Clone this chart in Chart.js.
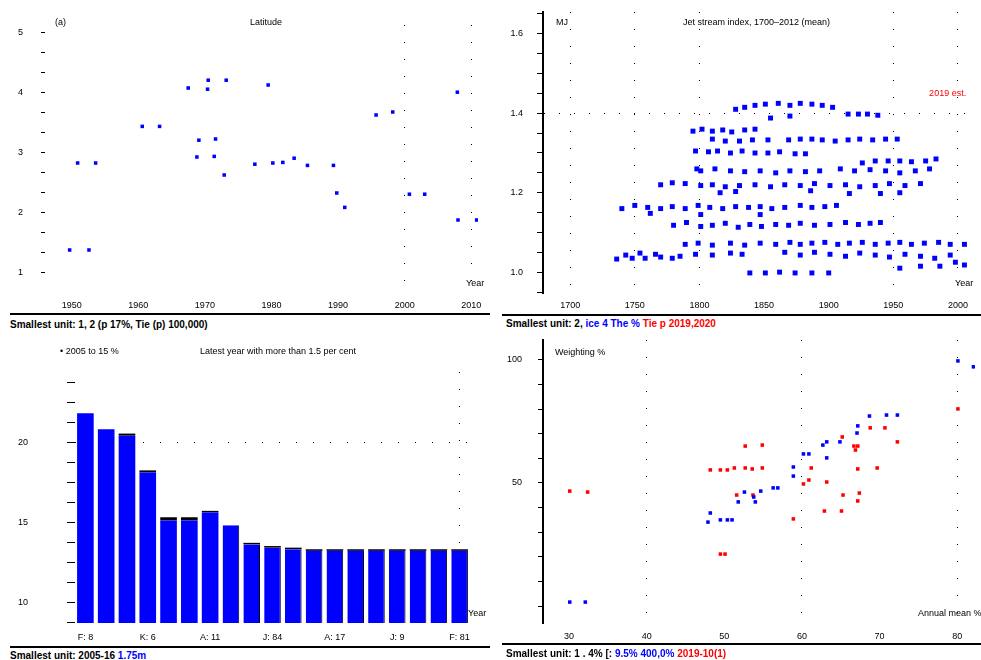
<!DOCTYPE html>
<html>
<head>
<meta charset="utf-8">
<script src="https://cdn.jsdelivr.net/npm/chart.js@4"></script>
<style>
body { margin: 0; background: #fff; width: 981px; height: 660px; position: relative; overflow: hidden; font-family: "Liberation Sans", Arial, sans-serif; }
canvas { position: absolute; }
.txt { position: absolute; font-size: 9px; color: #000; white-space: nowrap; line-height: 10px; }
.rule { position: absolute; height: 2px; background: #000; }
.foot { position: absolute; font-size: 10px; font-weight: bold; white-space: nowrap; line-height: 11px; color: #000; }
.b { color: #0000ff; }
.r { color: #ff0000; }
</style>
</head>
<body>
<canvas id="c1" width="490" height="314" style="left:0;top:0"></canvas>
<canvas id="c2" width="491" height="314" style="left:490px;top:0"></canvas>
<canvas id="c3" width="490" height="312" style="left:0;top:334px"></canvas>
<canvas id="c4" width="491" height="310" style="left:490px;top:334px"></canvas>

<div class="txt" style="left:55px;top:17px">(a)</div>
<div class="txt" style="left:250px;top:17px">Latitude</div>
<div class="txt" style="left:466px;top:278px">Year</div>
<div class="txt" style="left:556px;top:17px">MJ</div>
<div class="txt" style="left:683px;top:17px">Jet stream index, 1700–2012 (mean)</div>
<div class="txt" style="left:955px;top:278px">Year</div>
<div class="txt" style="left:60px;top:346px">• 2005 to 15 %</div>
<div class="txt" style="left:200px;top:346px">Latest year with more than 1.5 per cent</div>
<div class="txt" style="left:468px;top:608px">Year</div>
<div class="txt" style="left:555px;top:347px">Weighting %</div>
<div class="txt" style="left:918px;top:608px">Annual mean %</div>

<div class="rule" style="left:10px;top:313px;width:480px"></div>
<div class="rule" style="left:502px;top:314px;width:479px"></div>
<div class="rule" style="left:10px;top:646px;width:480px"></div>
<div class="rule" style="left:502px;top:643px;width:479px"></div>

<div class="foot" style="left:10px;top:319px">Smallest unit: 1, 2 (p 17%, Tie (p) 100,000)</div>
<div class="foot" style="left:506px;top:318px">Smallest unit: 2, <span class="b">ice 4 The %</span> <span class="r">Tie p 2019,2020</span></div>
<div class="foot" style="left:10px;top:650px">Smallest unit: 2005-16 <span class="b">1.75m</span></div>
<div class="foot" style="left:506px;top:648px">Smallest unit: 1 . 4% [: <span class="b">9.5% 400,0%</span> <span class="r">2019-10(1)</span></div>

<script>
// ---- top left: scatter
const tlYears = [1967.5, 1970.5, 1970.4, 1973.2, 1979.5, 2007.9, 1995.7, 1998.2, 1960.6, 1963.2,
  1969.1, 1971.6, 1968.8, 1971.4, 1950.9, 1953.6, 1977.5, 1980.2, 1981.7, 1983.4, 1985.4,
  1989.3, 1972.9, 1989.8, 1991.0, 2000.7, 2003.0, 2008.0, 2010.8, 1949.7, 1952.6];
const tlValues = [4.07, 4.2, 4.05, 4.2, 4.12, 4.0, 3.62, 3.67, 3.43, 3.43,
  3.2, 3.22, 2.92, 2.93, 2.82, 2.82, 2.8, 2.82, 2.83, 2.9, 2.78,
  2.78, 2.62, 2.32, 2.08, 2.3, 2.3, 1.87, 1.87, 1.37, 1.37];
const tlXTicks = [1950, 1960, 1970, 1980, 1990, 2000, 2010];
const tlYTicks = [1, 1.333, 1.667, 2, 2.333, 2.667, 3, 3.333, 3.667, 4, 4.333, 4.667, 5];

// ---- top right: dense scatter
const trYears = [
  1828, 1835, 1843, 1851, 1861, 1870, 1878, 1887, 1895, 1903, 1915, 1923, 1930, 1938, 1855, 1870,
  1795, 1802, 1810, 1818, 1825, 1835, 1843,
  1810, 1820, 1831, 1841, 1853, 1869, 1878, 1887, 1895, 1905, 1915, 1924, 1934, 1944, 1953,
  1797, 1807, 1814, 1824, 1833, 1843, 1853, 1862, 1874, 1882,
  1926, 1936, 1946, 1955, 1964, 1975, 1983,
  1798, 1801, 1812, 1824, 1835, 1847, 1859, 1870, 1882, 1893, 1909, 1920, 1932, 1944, 1955, 1967, 1978,
  1770, 1779, 1789, 1801, 1810, 1820, 1831, 1843, 1855, 1866, 1878, 1889, 1901, 1913, 1924, 1936, 1947, 1959, 1971,
  1816, 1828, 1886, 1916, 1940, 1955,
  1740, 1750, 1760, 1770, 1779, 1789, 1799, 1808, 1818, 1828, 1838, 1847, 1856, 1866, 1878, 1887, 1897, 1906,
  1762, 1801, 1847,
  1780, 1790, 1801, 1810, 1820, 1830, 1839, 1848, 1859, 1869, 1878, 1889, 1901, 1913, 1923, 1932, 1940,
  1789, 1799, 1810, 1824, 1835, 1847, 1859, 1870, 1878, 1887, 1897, 1907, 1916, 1926, 1936, 1946, 1955, 1964, 1974, 1985, 1994, 2005,
  1866, 1878, 1889, 1901, 1913, 1924, 1936, 1947, 1959, 1971, 1982, 1994, 1743, 1754, 1766, 1785, 1797, 1810, 1824, 1833,
  1736, 1748, 1758, 1770, 1779,
  1839, 1851, 1862, 1874, 1887, 1900,
  1955, 1971, 1986, 1998, 2005];
const trValues = [
  1.41, 1.415, 1.42, 1.423, 1.425, 1.42, 1.425, 1.423, 1.42, 1.415, 1.398, 1.398, 1.398, 1.395, 1.388, 1.393,
  1.355, 1.36, 1.355, 1.358, 1.353, 1.358, 1.36,
  1.335, 1.33, 1.33, 1.333, 1.333, 1.333, 1.335, 1.335, 1.333, 1.33, 1.333, 1.335, 1.333, 1.335, 1.335,
  1.305, 1.303, 1.305, 1.3, 1.305, 1.3, 1.3, 1.303, 1.298, 1.298,
  1.275, 1.28, 1.28, 1.28, 1.278, 1.28, 1.285,
  1.26, 1.255, 1.26, 1.255, 1.253, 1.255, 1.25, 1.255, 1.253, 1.255, 1.26, 1.255, 1.258, 1.255, 1.25, 1.255, 1.26,
  1.22, 1.225, 1.223, 1.218, 1.22, 1.215, 1.218, 1.22, 1.215, 1.22, 1.218, 1.223, 1.218, 1.22, 1.215, 1.218, 1.223, 1.218, 1.223,
  1.2, 1.203, 1.205, 1.198, 1.198, 1.2,
  1.16, 1.168, 1.163, 1.16, 1.165, 1.16, 1.168, 1.163, 1.16, 1.165, 1.163, 1.165, 1.16, 1.163, 1.168, 1.163, 1.165, 1.168,
  1.148, 1.145, 1.145,
  1.118, 1.125, 1.115, 1.118, 1.123, 1.113, 1.12, 1.115, 1.12, 1.118, 1.123, 1.118, 1.12, 1.125, 1.12, 1.123, 1.125,
  1.07, 1.073, 1.068, 1.073, 1.068, 1.073, 1.07, 1.075, 1.07, 1.073, 1.075, 1.07, 1.073, 1.075, 1.07, 1.073, 1.075, 1.07, 1.073, 1.075, 1.07, 1.07,
  1.05, 1.043, 1.05, 1.045, 1.04, 1.048, 1.043, 1.038, 1.045, 1.04, 1.035, 1.043, 1.043, 1.048, 1.045, 1.04, 1.045, 1.043, 1.048, 1.045,
  1.033, 1.035, 1.035, 1.038, 1.035,
  0.998, 0.998, 1.0, 0.998, 0.998, 0.998,
  1.01, 1.015, 1.015, 1.025, 1.018];
const trNoteYears = [1992];
const trNoteValues = [1.45];
const trNoteText = ['2019 est.'];
const trXTicks = [1700, 1750, 1800, 1850, 1900, 1950, 2000];
const trYTicks = [0.95, 1.0, 1.05, 1.1, 1.15, 1.2, 1.25, 1.3, 1.35, 1.4, 1.45, 1.5, 1.55, 1.6, 1.65];
const trYLabelled = [1.0, 1.2, 1.4, 1.6];

// ---- bottom left: bars
const blCats = ['F: 8', 'G: 3', 'H: 5', 'K: 6', 'L: 2', 'M: 9', 'A: 11', 'B: 4', 'C: 7', 'J: 84',
  'N: 3', 'P: 5', 'A: 17', 'D: 2', 'E: 6', 'J: 9', 'R: 4', 'S: 1', 'F: 81'];
const blValues = [21.8, 20.8, 20.4, 18.1, 15.1, 15.1, 15.6, 14.8, 13.6, 13.4,
  13.3, 13.2, 13.2, 13.2, 13.2, 13.2, 13.2, 13.2, 13.2];
const blCaps = [0, 0, 0.13, 0.13, 0.2, 0.2, 0.1, 0, 0.1, 0.1,
  0.1, 0.1, 0.1, 0.1, 0.1, 0.1, 0.1, 0.1, 0.1];
const blYTicks = [8.75, 10, 11.25, 12.5, 13.75, 15, 16.25, 17.5, 18.75, 20, 21.25, 22.5, 23.75];
const blYLabelled = [10, 15, 20];

// ---- bottom right: two scatter series
const brBlueX = [80.1, 82.1, 68.7, 70.9, 72.3, 67.2, 67.1, 64.9, 63.2, 62.7, 60.2, 60.9, 63.2, 58.9, 58.9,
  56.3, 56.9, 52.6, 54.7, 53.8, 51.8, 54.0, 48.2, 49.5, 50.4, 51.0, 47.9, 30.1, 32.1];
const brBlueY = [99.6, 97.2, 77.2, 77.6, 77.6, 73.2, 70.3, 66.7, 66.7, 65.4, 61.8, 61.8, 60.2, 56.5, 52.8,
  48.0, 48.0, 46.3, 46.7, 44.3, 42.3, 42.3, 37.8, 35.0, 35.0, 35.0, 34.1, 1.6, 1.6];
const brRedX = [80.1, 68.8, 70.7, 72.3, 65.2, 66.7, 67.2, 66.9, 52.7, 54.9, 48.2, 49.5, 50.4, 51.3, 52.7,
  53.6, 54.9, 61.2, 67.2, 69.7, 60.9, 60.2, 63.2, 30.1, 32.4, 51.6, 53.7, 65.3, 67.4, 62.9, 65.1, 67.2,
  58.9, 49.5, 50.1];
const brRedY = [80.1, 72.4, 72.4, 66.7, 68.7, 65.0, 65.0, 63.4, 65.0, 65.4, 55.3, 55.3, 55.3, 56.1, 56.1,
  55.7, 56.1, 56.1, 55.7, 56.1, 51.2, 49.6, 50.4, 46.7, 46.3, 45.1, 45.1, 45.1, 45.9, 38.6, 38.6, 42.7,
  35.4, 21.1, 21.1];
const brXTicks = [30, 40, 50, 60, 70, 80];
const brXGrid = [40, 60, 80];
const brYTicks = [0, 10, 20, 30, 40, 50, 60, 70, 80, 90, 100];
const brYLabelled = [50, 100];

const BLUE = '#0000ff', RED = '#ff0000', CLEAR = 'rgba(0,0,0,0)';

Chart.defaults.font.family = '"Liberation Sans", Arial, sans-serif';
Chart.defaults.font.size = 9;
Chart.defaults.color = '#000';
Chart.defaults.animation = false;
Chart.defaults.responsive = false;
Chart.defaults.devicePixelRatio = 1;
Chart.defaults.plugins.legend.display = false;
Chart.defaults.plugins.tooltip.enabled = false;

// fixed axis sizes; the label overhang padding is dropped so the plot area stays where it is set
function fixW(w) { return function (a) { a.width = w; a.paddingTop = 0; a.paddingBottom = 0; }; }
function fixH(h) { return function (a) { a.height = h; a.paddingLeft = 0; a.paddingRight = 0; }; }
function setTicks(list) { return function (a) { a.ticks = list.map(v => ({ value: v })); }; }
function pts(xs, ys) { return xs.map((x, i) => ({ x: x, y: ys[i] })); }
function near(v, list) { return list.some(t => Math.abs(t - v) < 1e-6); }

// draws the text attached to a dataset's points
const pointText = {
  id: 'pointText',
  afterDatasetsDraw(chart) {
    const ctx = chart.ctx;
    chart.data.datasets.forEach((ds, i) => {
      if (!ds.texts) return;
      chart.getDatasetMeta(i).data.forEach((el, j) => {
        ctx.save();
        ctx.fillStyle = ds.textColor;
        ctx.font = '9px "Liberation Sans", Arial, sans-serif';
        ctx.textAlign = 'center';
        ctx.textBaseline = 'middle';
        ctx.fillText(ds.texts[j], el.x, el.y);
        ctx.restore();
      });
    });
  }
};

new Chart(document.getElementById('c1'), {
  type: 'scatter',
  data: { datasets: [{ data: pts(tlYears, tlValues), backgroundColor: BLUE, borderWidth: 0, pointStyle: 'rect', pointRadius: 2.5 }] },
  options: {
    layout: { padding: { top: 25, right: 12 } },
    scales: {
      x: {
        min: 1946, max: 2011, afterBuildTicks: setTicks(tlXTicks), afterFit: fixH(19),
        ticks: { padding: 5, callback: v => String(v) },
        border: { display: false, dash: [1, 16] },
        grid: { drawTicks: false, color: c => (c.tick && c.tick.value >= 2000) ? '#000' : CLEAR }
      },
      y: {
        min: 0.62, max: 5.12, afterBuildTicks: setTicks(tlYTicks), afterFit: fixW(45),
        ticks: { padding: 18, callback: v => near(v, [1, 2, 3, 4, 5]) ? String(Math.round(v)) : '' },
        border: { display: false },
        grid: { drawOnChartArea: false, tickLength: 4, color: '#000' }
      }
    }
  }
});

new Chart(document.getElementById('c2'), {
  type: 'scatter',
  data: {
    datasets: [
      { data: pts(trYears, trValues), backgroundColor: BLUE, borderWidth: 0, pointStyle: 'rect', pointRadius: 3.5 },
      { data: pts(trNoteYears, trNoteValues), pointRadius: 0, texts: trNoteText, textColor: RED }
    ]
  },
  options: {
    layout: { padding: { top: 12, right: 11 } },
    scales: {
      x: {
        min: 1679, max: 2009.3, afterBuildTicks: setTicks(trXTicks), afterFit: fixH(21),
        ticks: { padding: 7, callback: v => String(v) },
        border: { display: false, dash: [1, 16] },
        grid: { drawTicks: false, color: c => (c.tick && (c.tick.value === 1850 || c.tick.value === 1900)) ? CLEAR : '#000' }
      },
      y: {
        min: 0.9475, max: 1.655, afterBuildTicks: setTicks(trYTicks), afterFit: fixW(53),
        ticks: { padding: 14, callback: v => near(v, trYLabelled) ? v.toFixed(1) : '' },
        border: { display: true, color: '#000', width: 2, dash: [1, 14] },
        grid: { tickLength: 6, tickColor: '#000', color: c => (c.tick && near(c.tick.value, [1.4])) ? '#000' : CLEAR }
      }
    }
  },
  plugins: [pointText]
});

new Chart(document.getElementById('c3'), {
  type: 'bar',
  data: {
    labels: blCats,
    datasets: [
      { data: blValues, backgroundColor: BLUE, borderColor: '#000',
        borderWidth: c => c.dataIndex >= 7 ? { right: 1 } : 0,
        barPercentage: 0.8, categoryPercentage: 1 },
      { data: blCaps, backgroundColor: '#000', borderWidth: 0, barPercentage: 0.8, categoryPercentage: 1 }
    ]
  },
  options: {
    layout: { padding: { top: 38, right: 20 } },
    scales: {
      x: {
        stacked: true, afterFit: fixH(23),
        ticks: { padding: 9, autoSkip: false, maxRotation: 0, callback: (v, i) => i % 3 === 0 ? blCats[i] : '' },
        border: { display: false, dash: [1, 16] },
        grid: { offset: false, drawTicks: false, color: c => (c.index === blCats.length - 1) ? '#000' : CLEAR }
      },
      y: {
        stacked: true, min: 8.69, max: 24.38, afterBuildTicks: setTicks(blYTicks), afterFit: fixW(75),
        ticks: { padding: 39, callback: v => near(v, blYLabelled) ? String(Math.round(v)) : '' },
        border: { display: false, dash: [1, 16] },
        grid: { tickLength: 8, tickColor: '#000', color: c => (c.tick && near(c.tick.value, [20])) ? '#000' : CLEAR }
      }
    }
  }
});

new Chart(document.getElementById('c4'), {
  type: 'scatter',
  data: {
    datasets: [
      { data: pts(brBlueX, brBlueY), backgroundColor: BLUE, borderWidth: 0, pointStyle: 'rect', pointRadius: 2.5 },
      { data: pts(brRedX, brRedY), backgroundColor: RED, borderWidth: 0, pointStyle: 'rect', pointRadius: 2.5 }
    ]
  },
  options: {
    layout: { padding: { top: 6, right: 6 } },
    scales: {
      x: {
        min: 26.65, max: 82.3, afterBuildTicks: setTicks(brXTicks), afterFit: fixH(21),
        ticks: { padding: 8, callback: v => String(v) },
        border: { display: false, dash: [1, 16] },
        grid: { drawTicks: false, color: c => (c.tick && near(c.tick.value, brXGrid)) ? '#000' : CLEAR }
      },
      y: {
        min: -6.9, max: 108.1, afterBuildTicks: setTicks(brYTicks), afterFit: fixW(53),
        ticks: { padding: 16, callback: v => near(v, brYLabelled) ? String(v) : '' },
        border: { display: true, color: '#000', width: 2 },
        grid: { drawOnChartArea: false, tickLength: 5, color: '#000' }
      }
    }
  }
});
</script>
</body>
</html>
